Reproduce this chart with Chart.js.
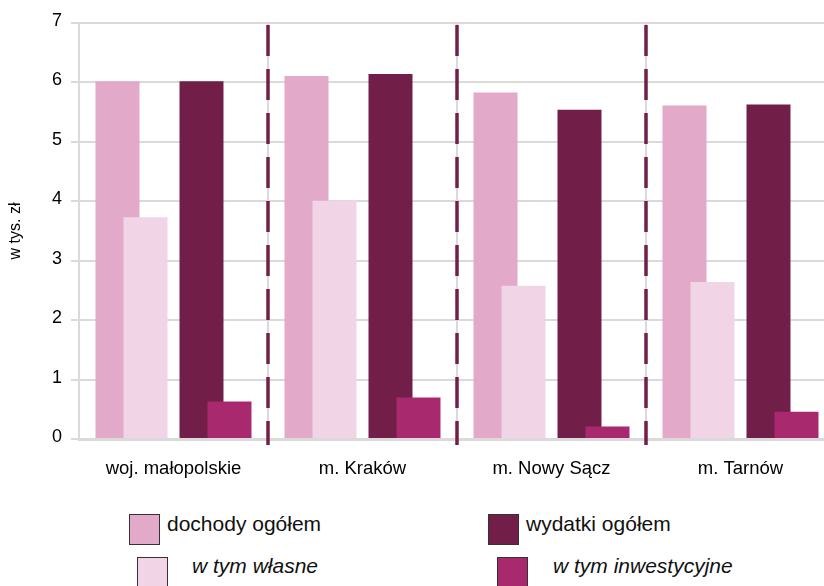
<!DOCTYPE html>
<html>
<head>
<meta charset="utf-8">
<script src="https://cdn.jsdelivr.net/npm/chart.js@4/dist/chart.umd.min.js"></script>
<style>
  html, body { margin: 0; padding: 0; background: #fff; overflow: hidden; }
  body { width: 824px; height: 586px; position: relative; font-family: "Liberation Sans", Arial, sans-serif; }
  #wrap { position: absolute; left: 0; top: 0; width: 836px; height: 490px; }
  .box { position: absolute; width: 29px; height: 29px; border: 1.5px solid #333; }
  .lbl { position: absolute; font-size: 21px; line-height: 24px; color: #111; white-space: nowrap; }
  .it { font-style: italic; }
</style>
</head>
<body>
<div id="wrap"><canvas id="chart"></canvas></div>

<div class="box" style="left:129px; top:514px; background:#e2a9c9;"></div>
<div class="lbl" style="left:167px; top:512px;">dochody ogółem</div>
<div class="box" style="left:488px; top:514px; background:#711f48;"></div>
<div class="lbl" style="left:526px; top:512px;">wydatki ogółem</div>
<div class="box" style="left:137px; top:557px; background:#f1d5e7;"></div>
<div class="lbl it" style="left:192px; top:554px;">w tym własne</div>
<div class="box" style="left:497px; top:557px; background:#a8296d;"></div>
<div class="lbl it" style="left:553px; top:554px;">w tym inwestycyjne</div>

<script>
// categories and values (w tys. zł)
const categories = ['woj. małopolskie', 'm. Kraków', 'm. Nowy Sącz', 'm. Tarnów'];
const dochodyOgolem = [6.02, 6.11, 5.83, 5.61];
const dochodyWlasne = [3.73, 4.01, 2.58, 2.64];
const wydatkiOgolem = [6.02, 6.14, 5.54, 5.63];
const wydatkiInwest = [0.63, 0.70, 0.21, 0.46];
const yTicks = [0, 1, 2, 3, 4, 5, 6, 7];

// slot names inside a group (slot s3 stays empty)
const slots = ['s1', 's2', 's3', 's4', 's5'];

const GRID = '#dadada';
const FONT = "'Liberation Sans', Arial, sans-serif";

// dashed separators between the groups
const separators = {
    id: 'separators',
    afterDatasetsDraw(chart) {
        const x = chart.scales.x;
        const area = chart.chartArea;
        const ctx = chart.ctx;
        ctx.save();
        ctx.strokeStyle = '#722048';
        ctx.lineWidth = 3.5;
        ctx.setLineDash([31, 13]);
        for (let i = 1; i < categories.length; i++) {
            const px = (x.getPixelForValue(i - 1) + x.getPixelForValue(i)) / 2;
            ctx.beginPath();
            ctx.moveTo(px, area.top + 2);
            ctx.lineTo(px, area.bottom + 6);
            ctx.stroke();
        }
        ctx.restore();
    }
};

// empty placeholders with lowest order fix the slot order left to right,
// the real bars get higher order so the left bar of each pair is drawn underneath
const placeholders = slots.map(s => ({
    label: '', stack: s, order: 0,
    data: categories.map(() => null),
    backgroundColor: 'rgba(0,0,0,0)'
}));

const ctx = document.getElementById('chart').getContext('2d');

new Chart(ctx, {
    type: 'bar',
    data: {
        labels: categories,
        datasets: placeholders.concat([
            { label: 'dochody ogółem', data: dochodyOgolem, stack: 's1', order: 4, backgroundColor: '#e2a9c9' },
            { label: 'w tym własne', data: dochodyWlasne, stack: 's2', order: 3, backgroundColor: '#f1d5e7' },
            { label: 'wydatki ogółem', data: wydatkiOgolem, stack: 's4', order: 2, backgroundColor: '#711f48' },
            { label: 'w tym inwestycyjne', data: wydatkiInwest, stack: 's5', order: 1, backgroundColor: '#a8296d' }
        ])
    },
    options: {
        responsive: true,
        maintainAspectRatio: false,
        animation: false,
        categoryPercentage: 0.7407,
        barPercentage: 1.571,
        layout: { padding: { top: 23, right: 1, left: 0, bottom: 0 } },
        plugins: {
            legend: { display: false },
            tooltip: { enabled: false }
        },
        scales: {
            x: {
                offset: true,
                grid: { color: GRID, lineWidth: 2, offset: true, drawTicks: false },
                border: { color: GRID, width: 3 },
                ticks: { color: '#000', font: { family: FONT, size: 18.5 }, padding: 19, maxRotation: 0 },
                afterFit(scale) { scale.height = 51; }
            },
            y: {
                min: 0,
                max: 7,
                stacked: false,
                afterBuildTicks(scale) { scale.ticks = yTicks.map(v => ({ value: v })); },
                grid: { color: GRID, lineWidth: 2, tickLength: 8 },
                border: { color: GRID, width: 2 },
                ticks: { color: '#000', font: { family: FONT, size: 18 }, padding: 9, labelOffset: -2 },
                title: {
                    display: true,
                    text: 'w tys. zł',
                    color: '#000',
                    font: { family: FONT, size: 16 },
                    padding: { top: 6, bottom: 0 }
                },
                afterFit(scale) { scale.width = 79; }
            }
        }
    },
    plugins: [separators]
});
</script>
</body>
</html>
